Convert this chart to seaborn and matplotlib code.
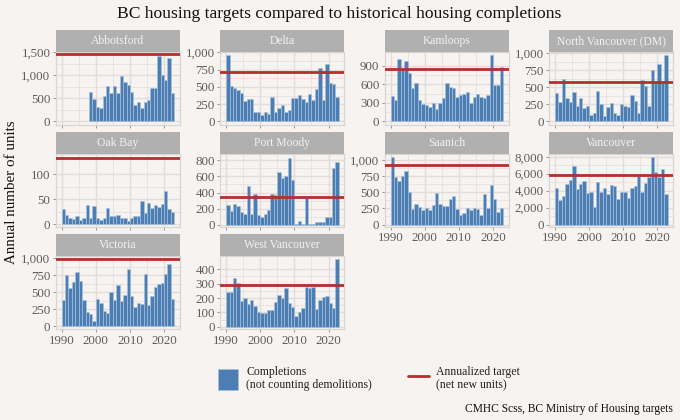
import numpy as np
import pandas as pd
import matplotlib
matplotlib.use("Agg")
import matplotlib.pyplot as plt
from matplotlib.lines import Line2D
from matplotlib.patches import Patch, Rectangle
from matplotlib.ticker import AutoMinorLocator, FixedLocator, FuncFormatter
import seaborn as sns

first_year = 1990
abbotsford = [None]*8 + [630,490,320,300,560,760,610,770,610,990,850,790,640,360,430,290,420,470,730,720,1430,1010,900,1390,610]
delta = [966,515,490,457,418,298,327,327,140,140,91,135,106,360,130,197,235,140,163,341,337,385,327,288,400,303,466,770,312,827,553,543,351]
kamloops = [415,340,1008,850,980,790,540,620,340,285,260,240,295,205,305,375,620,565,545,390,430,445,485,305,400,440,400,375,425,1083,590,590,878]
north_van = [413,291,621,340,277,427,228,340,194,228,97,117,451,248,83,209,267,121,87,248,228,209,388,306,126,602,519,233,747,592,840,592,971]
oak_bay = [30,18,13,11,16,9,12,38,12,37,12,8,13,32,17,17,19,13,13,7,12,17,17,46,22,42,32,38,35,40,67,30,24]
port_moody = [238,175,262,229,158,137,479,129,387,117,96,129,187,379,367,662,575,600,833,562,8,42,8,329,4,4,33,33,33,92,92,712,783]
saanich = [1047,741,679,757,829,508,238,321,275,223,264,233,300,497,326,290,290,404,440,238,145,186,259,228,259,243,150,471,254,617,389,192,254]
vancouver = [4255,2876,3428,4728,5240,6895,4176,4728,5122,3743,3822,2088,5043,3861,4255,3664,4688,4531,2994,3900,3822,3113,4334,4570,5752,3822,4925,5634,7920,6186,5634,6540,3585]
victoria = [389,749,557,650,798,660,389,217,187,79,404,340,232,197,512,389,611,369,463,842,453,281,350,325,768,320,448,581,626,640,768,921,404]
west_van = [243,243,342,304,180,201,159,189,145,103,94,94,117,117,175,218,199,269,164,136,77,101,131,274,267,276,122,185,204,213,168,133,470]

cities = ["Abbotsford", "Delta", "Kamloops", "North Vancouver (DM)", "Oak Bay",
          "Port Moody", "Saanich", "Vancouver", "Victoria", "West Vancouver"]
series = [abbotsford, delta, kamloops, north_van, oak_bay, port_moody, saanich, vancouver, victoria, west_van]
targets = [1460, 720, 845, 570, 133, 342, 917, 5790, 990, 288]
y_limits = [(-75,1510), (-48,1005), (-54,1126), (-48,1015), (-5,140), (-29,879), (-36,1093), (-276,8313), (-39,1030), (-16,491)]
y_ticks = [[0,500,1000,1500], [0,250,500,750,1000], [0,300,600,900], [0,250,500,750,1000], [0,50,100],
           [0,200,400,600,800], [0,250,500,750,1000], [0,2000,4000,6000,8000], [0,250,500,750,1000], [0,100,200,300,400]]
x_ticks = [1990, 2000, 2010, 2020]

BG = "#F6F3F0"
BAR = "#4C7DB3"
LINE = "#B2302E"
GRID = "#E2DCDA"
GREY = "#8A8686"
STRIP = "#B1B0B0"

sns.set_theme(style="white", rc={"figure.facecolor": BG, "axes.facecolor": BG, "savefig.facecolor": BG})
plt.rcParams["font.family"] = ["Liberation Serif", "DejaVu Serif"]

rows = []
for city, values, target in zip(cities, series, targets):
    for i, v in enumerate(values):
        rows.append({"city": city, "year": first_year + i, "units": v, "target": target})
df = pd.DataFrame(rows).dropna(subset=["units"])

def draw(data, **kw):
    ax = plt.gca()
    ax.bar(data["year"], data["units"], width=1, align="edge", color=BAR,
           edgecolor="#A9C3DD", linewidth=0.45, zorder=3)
    ax.axhline(data["target"].iloc[0], color=LINE, lw=2.0, zorder=4)

g = sns.FacetGrid(df, col="city", col_order=cities, col_wrap=4, sharex=True, sharey=False, height=1.2, aspect=1.2)
g.map_dataframe(draw)
g.figure.set_size_inches(6.8, 4.2)
g.figure.subplots_adjust(left=56/680, right=673/680, top=1-52/420, bottom=1-329/420, wspace=41/124, hspace=29.5/73)
g.set_titles("")
g.set_axis_labels("", "")

bottom_cities = {"Saanich", "Vancouver", "Victoria", "West Vancouver"}
for ax, city, lim, ticks in zip(g.axes.flat, cities, y_limits, y_ticks):
    ax.set_xlim(1988.35, 2024.55)
    ax.set_ylim(*lim)
    ax.xaxis.set_major_locator(FixedLocator(x_ticks))
    ax.xaxis.set_minor_locator(AutoMinorLocator(2))
    ax.yaxis.set_major_locator(FixedLocator(ticks))
    ax.yaxis.set_minor_locator(FixedLocator([t + (ticks[1]-ticks[0])/2 for t in ticks[:-1]] ))
    ax.yaxis.set_major_formatter(FuncFormatter(lambda v, p: f"{int(v):,}"))
    ax.grid(which="major", color=GRID, lw=1.0, zorder=0)
    ax.grid(which="minor", color=GRID, lw=0.5, zorder=0)
    ax.set_axisbelow(True)
    for s in ax.spines.values():
        s.set_visible(True)
        s.set_color("#DAD5D3")
        s.set_linewidth(0.9)
    ax.tick_params(axis="y", which="major", labelsize=9.3, labelcolor="#5F5B5B", color=GREY, length=2, width=0.6, pad=2, left=True)
    ax.tick_params(axis="x", which="major", labelsize=9.3, labelcolor="#5F5B5B", color=GREY, length=2, width=0.6, pad=2,
                   bottom=True, labelbottom=city in bottom_cities)
    ax.tick_params(which="minor", length=0)
    ax.add_patch(Rectangle((0, 1), 1, 22/73, transform=ax.transAxes, clip_on=False,
                           facecolor=STRIP, edgecolor="none", zorder=5))
    ax.text(0.5, 1 + 11/73, city, transform=ax.transAxes, ha="center", va="center",
            fontsize=8.4, color="#F4F2F0", zorder=6)

fig = g.figure
fig.text(339/680, 1-14/420, "BC housing targets compared to historical housing completions",
         ha="center", va="center", fontsize=12.6, color="#111111")
fig.text(12/680, 1-192/420, "Annual number of units", rotation=90, ha="center", va="center",
         fontsize=10.8, color="#111111")

handles = [Patch(facecolor=BAR, edgecolor="#A9C3DD", linewidth=0.4), Line2D([0], [0], color=LINE, lw=2.0)]
labels = ["Completions\n(not counting demolitions)", "Annualized target\n(net new units)"]
fig.legend(handles, labels, ncol=2, loc="center left", bbox_to_anchor=(216/680, 1-378.5/420), frameon=False,
           fontsize=8.5, handlelength=1.7, handleheight=2.45, handletextpad=0.65, columnspacing=3.1,
           labelcolor="#222222", borderpad=0.2, borderaxespad=0)
fig.text(673/680, 1-409/420, "CMHC Scss, BC Ministry of Housing targets", ha="right", va="center",
         fontsize=8.3, color="#111111")

fig.savefig("out.png", dpi=100, facecolor=BG)
